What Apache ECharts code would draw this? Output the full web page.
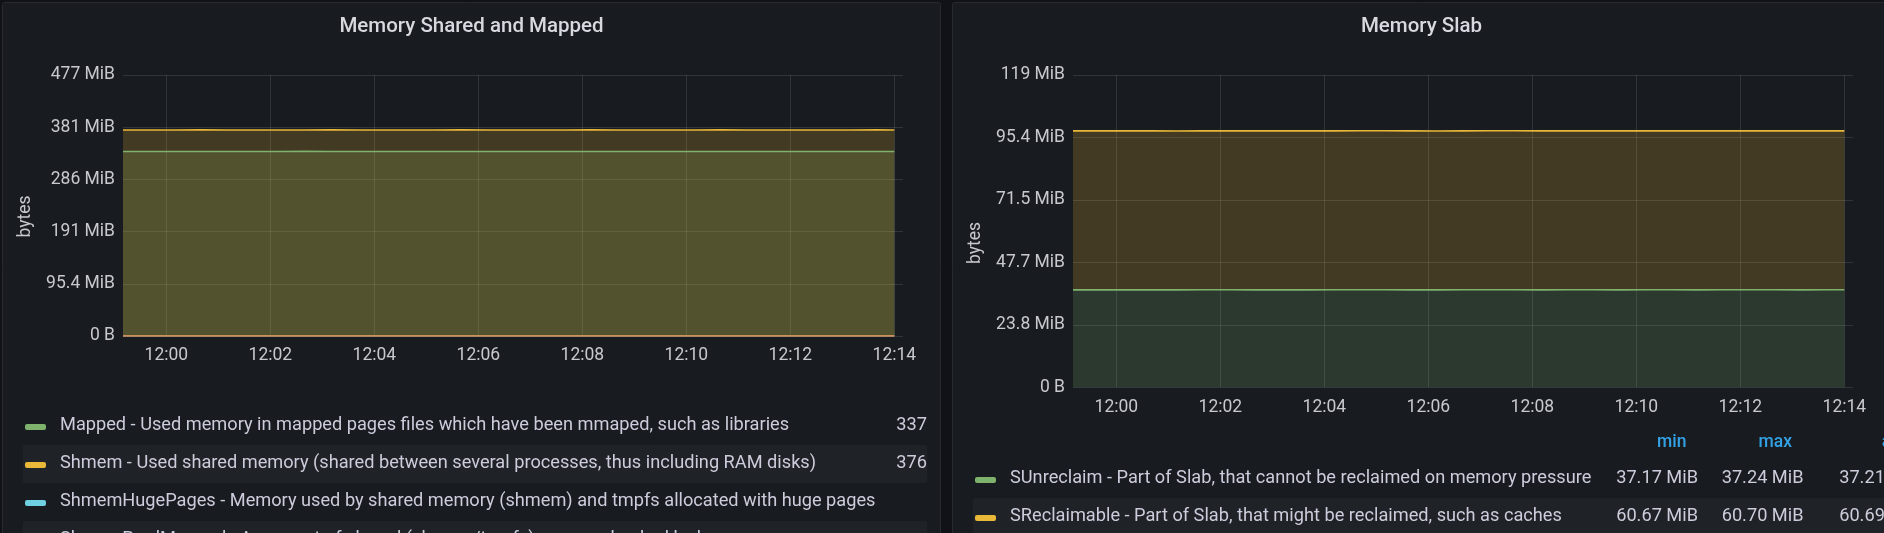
<!DOCTYPE html>
<html><head><meta charset="utf-8">
<script src="https://cdn.jsdelivr.net/npm/echarts@6/dist/echarts.min.js"></script>
<style>html,body{margin:0;padding:0;background:#111217;overflow:hidden}#c{width:1884px;height:533px}</style>
</head><body><div id="c"></div>
<script>
// ---------- data ----------
const sampleTimes = ['11:59:10','11:59:40','12:00:10','12:00:40','12:01:10','12:01:40','12:02:10','12:02:40','12:03:10','12:03:40','12:04:10','12:04:40','12:05:10','12:05:40','12:06:10','12:06:40','12:07:10','12:07:40','12:08:10','12:08:40','12:09:10','12:09:40','12:10:10','12:10:40','12:11:10','12:11:40','12:12:10','12:12:40','12:13:10','12:13:40','12:14:00'];
const xTickLabels = ['12:00','12:02','12:04','12:06','12:08','12:10','12:12','12:14'];

// Memory Shared and Mapped (MiB)
const mappedMiB = [337.1,337.0,337.2,337.1,337.1,337.0,337.2,337.3,337.1,337.0,337.1,337.2,337.1,337.1,337.0,337.2,337.1,337.1,337.2,337.0,337.1,337.1,337.2,337.1,337.0,337.1,337.2,337.1,337.1,337.0,337.1];
const shmemMiB = [376.3,376.4,376.3,376.5,376.4,376.3,376.4,376.4,376.5,376.3,376.4,376.4,376.3,376.5,376.4,376.4,376.3,376.4,376.5,376.4,376.3,376.4,376.4,376.5,376.3,376.4,376.4,376.3,376.4,376.5,376.4];
const shmemHugePagesMiB = [0,0,0,0,0,0,0,0,0,0,0,0,0,0,0,0,0,0,0,0,0,0,0,0,0,0,0,0,0,0,0];
const shmemPmdMappedMiB = [0,0,0,0,0,0,0,0,0,0,0,0,0,0,0,0,0,0,0,0,0,0,0,0,0,0,0,0,0,0,0];
const leftYTicks = ['0 B','95.4 MiB','191 MiB','286 MiB','381 MiB','477 MiB'];
const leftLegendNames = [
  'Mapped - Used memory in mapped pages files which have been mmaped, such as libraries',
  'Shmem - Used shared memory (shared between several processes, thus including RAM disks)',
  'ShmemHugePages - Memory used by shared memory (shmem) and tmpfs allocated with huge pages',
  'ShmemPmdMapped - Ammount of shared (shmem/tmpfs) memory backed by huge pages'
];
const leftLegendValues = ['337','376','',''];

// Memory Slab (MiB)
const sUnreclaimMiB = [37.19,37.21,37.20,37.22,37.17,37.21,37.23,37.20,37.21,37.19,37.22,37.24,37.21,37.20,37.18,37.21,37.22,37.21,37.20,37.23,37.21,37.19,37.22,37.21,37.20,37.21,37.23,37.21,37.20,37.22,37.21];
const sReclaimableMiB = [60.68,60.69,60.70,60.69,60.68,60.69,60.67,60.69,60.70,60.69,60.68,60.69,60.70,60.69,60.68,60.69,60.69,60.70,60.68,60.69,60.67,60.69,60.70,60.69,60.68,60.69,60.70,60.69,60.68,60.69,60.69];
const rightYTicks = ['0 B','23.8 MiB','47.7 MiB','71.5 MiB','95.4 MiB','119 MiB'];
const rightLegendNames = [
  'SUnreclaim - Part of Slab, that cannot be reclaimed on memory pressure',
  'SReclaimable - Part of Slab, that might be reclaimed, such as caches'
];
const rightLegendHeaders = ['min','max','avg'];
const rightLegendStats = [['37.17 MiB','37.24 MiB','37.21 MiB'],['60.67 MiB','60.70 MiB','60.69 MiB']];

const colors = {green:'#7EB26D', yellow:'#EAB839', cyan:'#6ED0E0', orange:'#EF843C'};
const MiB = 1048576;

// ---------- axis scaffolding: 10 s categories spanning the 15 min window ----------
function pad(n){return (n<10?'0':'')+n;}
const xCategories = [];
for (let s = 0; s <= 900; s += 10) {
  const t = 11*3600 + 59*60 + 10 + s;
  xCategories.push(pad(Math.floor(t/3600)) + ':' + pad(Math.floor(t%3600/60)) + ':' + pad(t%60));
}
const isTick = (v) => v.slice(6) === '00' && xTickLabels.indexOf(v.slice(0,5)) >= 0;

const tickColor = '#c8c9d0';
const gridColor = 'rgba(204,204,220,0.14)';
const FONT = 'Roboto';

function xAxis(gi){
  return {type:'category', gridIndex:gi, data:xCategories, boundaryGap:false,
    axisLine:{show:false}, axisTick:{show:false},
    axisLabel:{interval:(i,v)=>isTick(v), formatter:(v)=>v.slice(0,5), color:tickColor, fontSize:17.5, fontFamily:FONT, margin:11},
    splitLine:{show:true, interval:(i,v)=>isTick(v), lineStyle:{color:gridColor, width:1}}};
}
function yAxis(gi, step, ticks){
  return {type:'value', gridIndex:gi, min:0, max:step*(ticks.length-1), interval:step,
    axisLine:{show:false}, axisTick:{show:false},
    axisLabel:{formatter:(v)=>ticks[Math.round(v/step)], color:tickColor, fontSize:17.5, fontFamily:FONT, margin:8},
    splitLine:{show:true, lineStyle:{color:gridColor, width:1}}};
}
function series(gi, name, color, vals, stack){
  return {type:'line', name, xAxisIndex:gi, yAxisIndex:gi, stack,
    data: sampleTimes.map((t,i)=>[t, vals[i]*MiB]),
    symbol:'none', showSymbol:false, lineStyle:{width:1.6, color}, itemStyle:{color},
    areaStyle:{color, opacity:0.2}, animation:false};
}

// ---------- panel chrome / legends as graphic ----------
const g = [];
function rect(x,y,w,h,fill,stroke,z){ g.push({type:'rect', z:z, silent:true, shape:{x,y,width:w,height:h,r:2}, style:{fill, stroke, lineWidth:1}}); }
function text(x,y,t,opts){ g.push(Object.assign({type:'text', x, y, z:20, silent:true,
  style:Object.assign({text:t, fill:'#ccccdc', font:'18.2px '+FONT, align:'left', verticalAlign:'middle'}, opts.style||{})}, opts.el||{})); }

rect(2.5,2.5,938,540,'#181b1f','#26292e',-10);
rect(952.5,2.5,938,540,'#181b1f','#26292e',-10);
text(471.5,26.5,'Memory Shared and Mapped',{style:{font:'500 20.5px '+FONT, fill:'#d8d9e0', align:'center'}});
text(1421.5,26.5,'Memory Slab',{style:{font:'500 20.5px '+FONT, fill:'#d8d9e0', align:'center'}});
text(26,216.5,'bytes',{style:{font:'17.5px '+FONT, fill:tickColor, align:'center'}, el:{rotation:Math.PI/2}});
text(976,243,'bytes',{style:{font:'17.5px '+FONT, fill:tickColor, align:'center'}, el:{rotation:Math.PI/2}});

// left legend table
const leftColors = [colors.green, colors.yellow, colors.cyan, colors.orange];
leftLegendNames.forEach((n,i)=>{
  const cy = 426 + i*38;
  if (i%2===1) rect(22.7, cy-19, 904.6, 38, 'rgba(204,204,220,0.045)', null, -5);
  rect(25, cy-2, 21, 6, leftColors[i], null, 5);
  text(60, cy-1, n, {});
  if (leftLegendValues[i]) text(927, cy-1, leftLegendValues[i], {style:{align:'right'}});
});
// right legend table
const colRight = [1698, 1803.5, 1921];
rightLegendHeaders.forEach((h,j)=>text(colRight[j]-11.5, 443, h, {style:{align:'right', fill:'#33a2e5', font:'500 17.5px '+FONT}}));
const rightColors = [colors.green, colors.yellow];
rightLegendNames.forEach((n,i)=>{
  const cy = 479 + i*38;
  if (i%2===1) rect(972.7, cy-19, 930, 38, 'rgba(204,204,220,0.045)', null, -5);
  rect(975, cy-2, 21, 6, rightColors[i], null, 5);
  text(1010, cy-1, n, {});
  rightLegendStats[i].forEach((v,j)=>text(colRight[j], cy-1, v, {style:{align:'right'}}));
});

const chart = echarts.init(document.getElementById('c'), null, {renderer:'canvas'});
chart.setOption({
  backgroundColor:'#111217',
  animation:false,
  grid:[
    {left:123, top:75, width:780, height:261},
    {left:1073, top:75, width:780, height:312.3}
  ],
  xAxis:[xAxis(0), xAxis(1)],
  yAxis:[yAxis(0, 1e8, leftYTicks), yAxis(1, 25e6, rightYTicks)],
  series:[
    series(0,'Mapped',colors.green,mappedMiB),
    series(0,'Shmem',colors.yellow,shmemMiB),
    series(0,'ShmemHugePages',colors.cyan,shmemHugePagesMiB),
    series(0,'ShmemPmdMapped',colors.orange,shmemPmdMappedMiB),
    series(1,'SUnreclaim',colors.green,sUnreclaimMiB,'slab'),
    series(1,'SReclaimable',colors.yellow,sReclaimableMiB,'slab')
  ],
  graphic:{elements:g}
});
</script></body></html>
